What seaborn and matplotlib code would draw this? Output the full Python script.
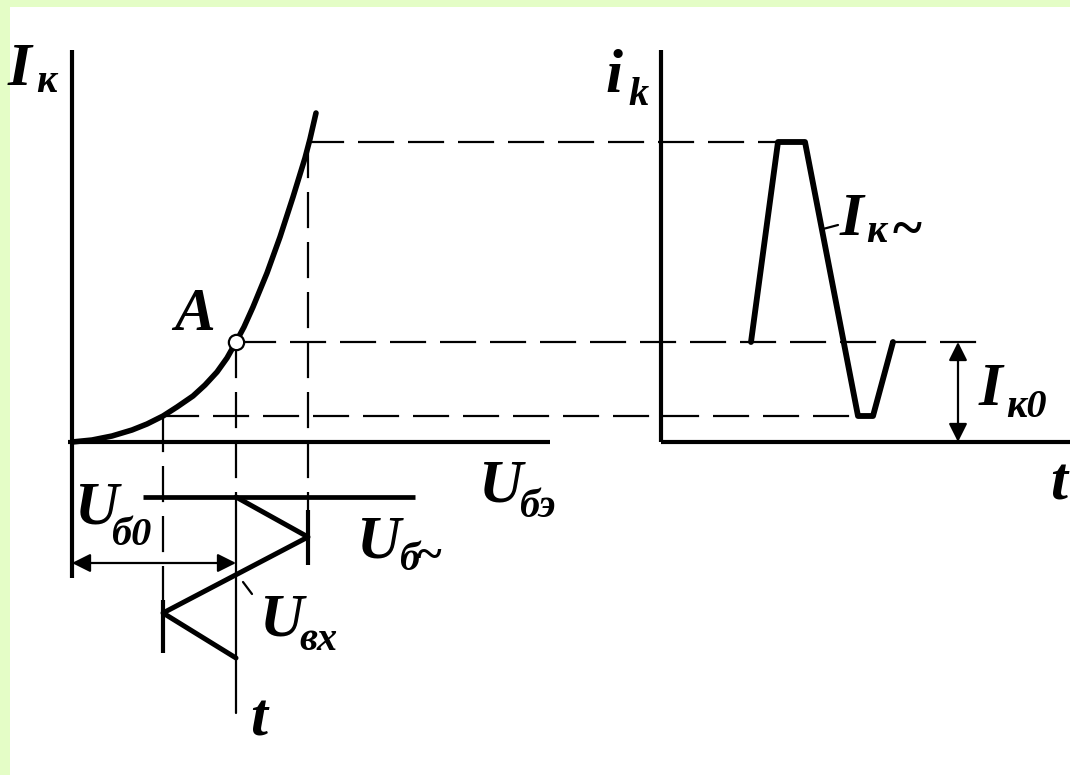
import matplotlib
matplotlib.use("Agg")
import matplotlib.pyplot as plt
from matplotlib.patches import Rectangle
import seaborn as sns
import pandas as pd

sns.set_theme(style="white")
plt.rcParams["font.family"] = ["Liberation Serif", "DejaVu Serif"]
plt.rcParams["lines.scale_dashes"] = False

# ---- diagram values (horizontal: voltage / time, vertical: collector current) ----
X0_LEFT = 72          # origin of the input characteristic
X0_RIGHT = 661        # origin of the collector-current time plot

U_B0 = 164            # bias voltage, operating point A
I_K0 = 100            # quiescent collector current
U_MIN, U_MAX = 91, 236
I_MIN, I_MAX = 26, 300

# input characteristic I_k(U_be)
u_be = [0, 20, 40, 60, 75, 91, 105, 121, 133, 145, 155, 164, 172, 181, 195, 208, 221, 233, 238, 244]
i_k = [0, 2, 6, 12, 18, 26, 35, 46, 57, 70, 84, 100, 115, 135, 169, 205, 245, 284, 303, 329]

# input signal U_vx(t), time running downward
u_in = [164, 236, 91, 164]
t_in = [-55, -95, -171, -216]

# collector current i_k(t)
t_out = [90, 117, 144, 197, 212, 232]
i_out = [100, 300, 300, 26, 26, 100]

GREEN = "#E4FDC6"
INK = "black"
DASH = (0, (26, 10))

fig = plt.figure(figsize=(10.7, 7.75), dpi=100, facecolor=GREEN)
ax = fig.add_axes([0, 0, 1, 1])
ax.set_xlim(0, 1070)
ax.set_ylim(-333, 442)
ax.axis("off")
ax.add_patch(Rectangle((10, -333), 1060, 768, facecolor="white", edgecolor="none", zorder=0))

# ---- axes of both panels ----
ax.plot([X0_LEFT, X0_LEFT], [392, -136], color=INK, lw=3.0, solid_capstyle="butt")
ax.plot([X0_LEFT - 4, 550], [0, 0], color=INK, lw=3.0, solid_capstyle="butt")
ax.plot([X0_RIGHT, X0_RIGHT], [392, 0], color=INK, lw=3.0, solid_capstyle="butt")
ax.plot([X0_RIGHT, 1070], [0, 0], color=INK, lw=3.0, solid_capstyle="butt")

# ---- projection lines ----
ax.plot([X0_LEFT + U_MAX, X0_RIGHT + t_out[1]], [I_MAX, I_MAX], color=INK, lw=1.6, ls=DASH)
ax.plot([X0_LEFT + U_B0 + 4, 985], [I_K0, I_K0], color=INK, lw=1.6, ls=DASH)
ax.plot([X0_LEFT + U_MIN, X0_RIGHT + t_out[3]], [I_MIN, I_MIN], color=INK, lw=1.6, ls=DASH)

ax.plot([X0_LEFT + U_MAX, X0_LEFT + U_MAX], [I_MAX, -68], color=INK, lw=1.6, ls=DASH)
ax.plot([X0_LEFT + U_MIN, X0_LEFT + U_MIN], [I_MIN, -213], color=INK, lw=1.6, ls=DASH)
ax.plot([X0_LEFT + U_B0, X0_LEFT + U_B0], [I_K0, t_in[0]], color=INK, lw=1.6, ls=DASH)
ax.plot([X0_LEFT + U_B0, X0_LEFT + U_B0], [t_in[0], -271], color=INK, lw=1.6)

# ---- input characteristic ----
curve = pd.DataFrame({"u": [X0_LEFT + u for u in u_be], "i": i_k})
sns.lineplot(data=curve, x="u", y="i", sort=False, estimator=None, color=INK,
             lw=4.0, ax=ax, solid_capstyle="round", solid_joinstyle="round", zorder=4)
ax.plot([X0_LEFT + U_B0], [I_K0], marker="o", ms=11, mfc="white", mec=INK, mew=1.6, zorder=5)

# ---- input signal ----
ax.plot([143, 415], [t_in[0], t_in[0]], color=INK, lw=3.4, solid_capstyle="butt")
sig_in = pd.DataFrame({"u": [X0_LEFT + u for u in u_in], "t": t_in})
sns.lineplot(data=sig_in, x="u", y="t", sort=False, estimator=None, color=INK,
             lw=3.6, ax=ax, zorder=4)
ax.plot([X0_LEFT + U_MAX] * 2, [-68, -123], color=INK, lw=3.0, solid_capstyle="butt")
ax.plot([X0_LEFT + U_MIN] * 2, [-158, -211], color=INK, lw=3.0, solid_capstyle="butt")

# ---- collector current ----
sig_out = pd.DataFrame({"t": [X0_RIGHT + t for t in t_out], "i": i_out})
sns.lineplot(data=sig_out, x="t", y="i", sort=False, estimator=None, color=INK,
             lw=4.2, ax=ax, zorder=4)

# ---- dimension arrows ----
arrow = dict(arrowstyle="<|-|>", color=INK, lw=1.6, mutation_scale=28, shrinkA=0, shrinkB=0)
ax.annotate("", xy=(X0_LEFT, -121), xytext=(X0_LEFT + U_B0, -121), arrowprops=arrow)
ax.annotate("", xy=(958, I_K0), xytext=(958, 0), arrowprops=arrow)

# leader ticks to labels
ax.plot([823, 838], [213, 217], color=INK, lw=1.6)
ax.plot([243, 252], [-140, -152], color=INK, lw=1.6)

# ---- labels ----
MAIN = dict(fontsize=44, fontweight="bold", fontstyle="italic", color=INK, va="baseline", ha="left")
SUB = dict(fontsize=29, fontweight="bold", fontstyle="italic", color=INK, va="baseline", ha="left")


def label(x, y, main, xs=None, ys=None, sub=""):
    ax.text(x, y, main, **MAIN)
    if sub:
        ax.text(xs, ys, sub, **SUB)


def tilde(x, y, size):
    ax.text(x, y, "~", fontsize=size, fontweight="bold", color=INK, ha="left", va="center")


label(8, 357, "I", 36, 350, "к")
label(174, 112, "A")
label(478, -60, "U", 519, -75, "бэ")
label(74, -81, "U", 111, -103, "б0")
label(356, -115, "U", 399, -128, "б")
tilde(417, -116, 34)
label(259, -193, "U", 299, -208, "вх")
label(250, -293, "t")
label(605, 350, "i", 628, 337, "k")
label(840, 207, "I", 866, 200, "к")
tilde(893, 210, 40)
label(979, 37, "I", 1006, 25, "к0")
label(1050, -58, "t")

fig.savefig("out.png", dpi=100, facecolor=GREEN)
